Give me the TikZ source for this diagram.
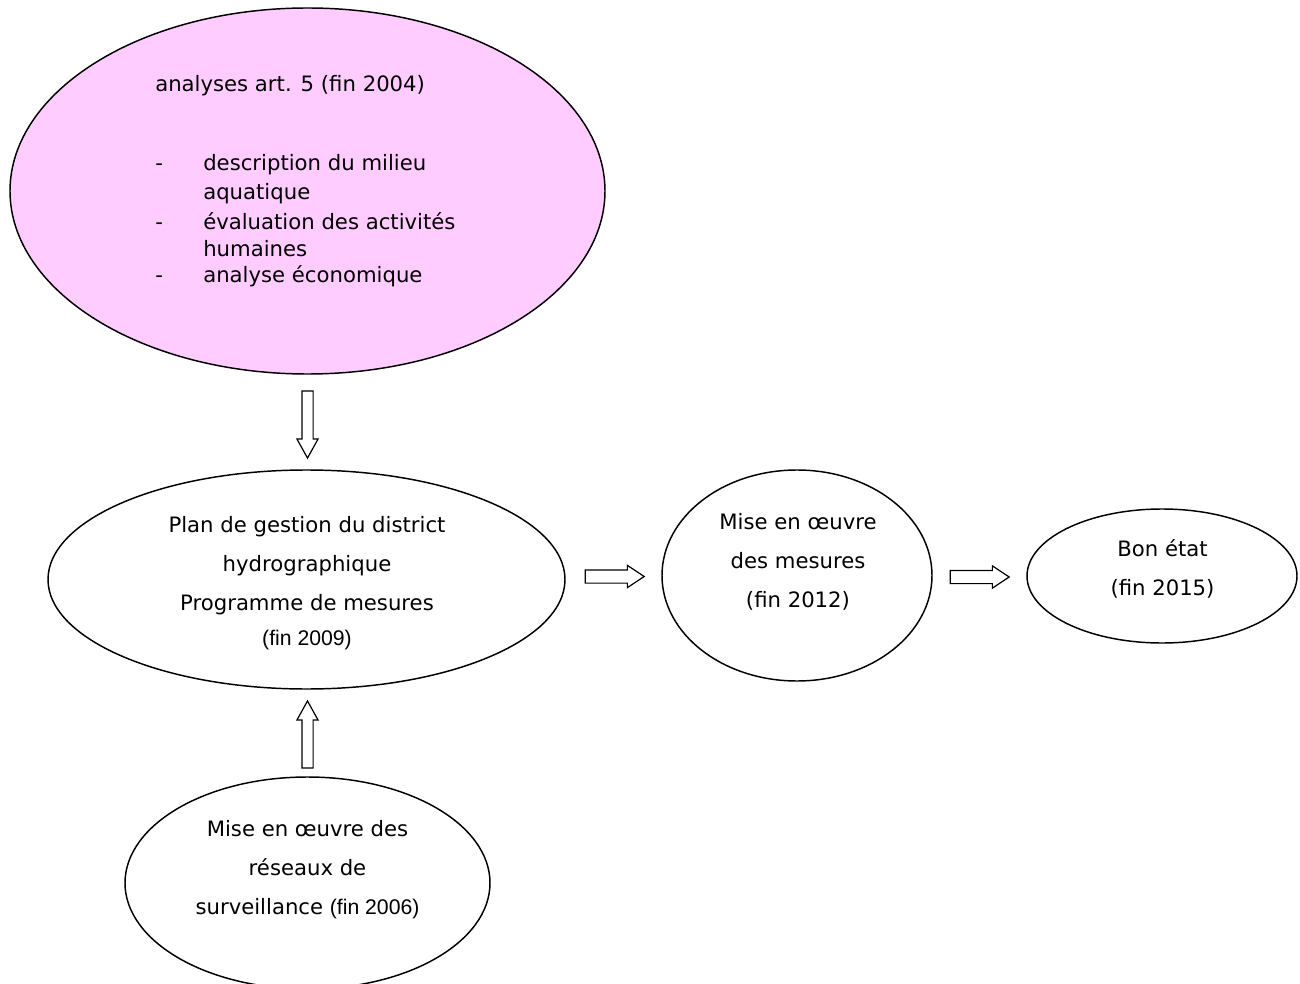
\documentclass[tikz,border=0pt]{standalone}
\usepackage{fontspec}
\setmainfont{DejaVu Sans}
\newfontfamily\arialfont{Liberation Sans}
\usetikzlibrary{shapes.geometric,shapes.arrows,calc}
\definecolor{pinkfill}{HTML}{FFCCFF}

\tikzset{
  stage/.style={draw,ellipse,line width=1.1pt,inner sep=0pt},
  stagetext/.style={inner sep=0pt,align=center,font=\fontsize{15.9}{29.25}\selectfont},
  itemtext/.style={inner sep=0pt,anchor=base west,font=\fontsize{15.9}{19}\selectfont},
  blockarrow/.style={draw,single arrow,line width=0.9pt,inner sep=0pt,
    text height=7.5pt,text depth=0pt,anchor=tip,
    minimum width=15pt,single arrow head extend=3.75pt,single arrow tip angle=58,
    minimum height=50.25pt},
  flatarrow/.style={blockarrow,text height=9pt,minimum width=15.75pt,
    single arrow head extend=3.4pt,single arrow tip angle=67,minimum height=44.25pt}
}

\begin{document}
\begin{tikzpicture}[x=0.75pt,y=-0.75pt]
  \useasboundingbox (0,0) rectangle (1300,984);
  \clip (0,0) rectangle (1300,984);

  % ellipses
  \node[stage,fill=pinkfill,minimum width=446.25pt,minimum height=274.5pt] (analyses) at (307.5,191) {};
  \node[stage,minimum width=387.75pt,minimum height=164.25pt] (plan) at (306.5,579.5) {};
  \node[stage,minimum width=202.5pt,minimum height=158.25pt] (mesures) at (797,575.5) {};
  \node[stage,minimum width=202.5pt,minimum height=100.5pt] (bonetat) at (1162,576) {};
  \node[stage,minimum width=273.75pt,minimum height=159pt] (reseaux) at (307.5,883) {};

  % texts
  \node[itemtext] (titre) at (155,92) {analyses art. 5 (fin 2004)};
  \node[itemtext] (tiret1) at (155,171) {-};
  \node[itemtext] (point1) at (203,171) {description du milieu};
  \node[itemtext] (point1b) at (203,200) {aquatique};
  \node[itemtext] (tiret2) at (155,230) {-};
  \node[itemtext] (point2) at (203,230) {évaluation des activités};
  \node[itemtext] (point2b) at (203,257) {humaines};
  \node[itemtext] (tiret3) at (155,283) {-};
  \node[itemtext] (point3) at (203,283) {analyse économique};

  \node[stagetext,anchor=base] (plantxt) at (307,645) {Plan de gestion du district\\hydrographique\\Programme de mesures\\[-3pt]{\arialfont (fin 2009)}};
  \node[stagetext,anchor=base] (mesurestxt) at (798,607) {Mise en œuvre\\des mesures\\(fin 2012)};
  \node[stagetext,anchor=base] (bonetattxt) at (1162.5,595) {Bon état\\(fin 2015)};
  \node[stagetext,anchor=base] (reseauxtxt) at (307.5,914) {Mise en œuvre des\\réseaux de\\surveillance {\arialfont (fin 2006)}};

  % block arrows
  \node[blockarrow,rotate=-90] (flechea) at ($(plan.north)+(1,-10)$) {};
  \node[blockarrow,rotate=90] (flecher) at ($(plan.south)+(1,10)$) {};
  \node[flatarrow] (flechep) at ($(mesures.west)+(-16,1)$) {};
  \node[flatarrow] (flechem) at ($(bonetat.west)+(-16,1)$) {};

\end{tikzpicture}
\end{document}
